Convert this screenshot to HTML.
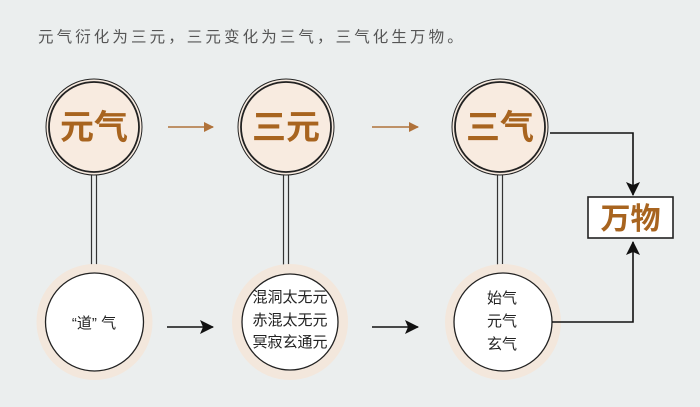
<!DOCTYPE html>
<html><head><meta charset="utf-8"><style>
body{margin:0;background:#ebeeee;}
svg{display:block}
text{font-family:"Liberation Sans","Noto Sans CJK SC",sans-serif}
</style></head><body>
<svg width="700" height="407" viewBox="0 0 700 407" xmlns="http://www.w3.org/2000/svg">
<rect width="700" height="407" fill="#ebeeee"/>
<text x="38" y="42" font-size="15.5" letter-spacing="3.1" fill="#555">元气衍化为三元，三元变化为三气，三气化生万物。</text>
<defs>
<marker id="ao" markerWidth="10" markerHeight="10" refX="9" refY="5" orient="auto" markerUnits="userSpaceOnUse"><path d="M0,0 L10,5 L0,10 Z" fill="#b0723a"/></marker>
<marker id="ab" markerWidth="14" markerHeight="14" refX="13" refY="7" orient="auto" markerUnits="userSpaceOnUse"><path d="M0,0 L14,7 L0,14 L3,7 Z" fill="#111"/></marker>
</defs>
<g stroke="#333" stroke-width="1.2">
<line x1="91.5" y1="174" x2="91.5" y2="272"/><line x1="96.5" y1="174" x2="96.5" y2="272"/>
<line x1="283.5" y1="174" x2="283.5" y2="272"/><line x1="288.5" y1="174" x2="288.5" y2="272"/>
<line x1="497.5" y1="174" x2="497.5" y2="272"/><line x1="502.5" y1="174" x2="502.5" y2="272"/>
</g>
<g>
<circle cx="94" cy="127" r="48" fill="#f8ebe0" stroke="#222" stroke-width="1"/>
<circle cx="94" cy="127" r="45" fill="#f8ebe0" stroke="#222" stroke-width="1.8"/>
<circle cx="286" cy="127" r="48" fill="#f8ebe0" stroke="#222" stroke-width="1"/>
<circle cx="286" cy="127" r="45" fill="#f8ebe0" stroke="#222" stroke-width="1.8"/>
<circle cx="500" cy="127" r="48" fill="#f8ebe0" stroke="#222" stroke-width="1"/>
<circle cx="500" cy="127" r="45" fill="#f8ebe0" stroke="#222" stroke-width="1.8"/>
</g>
<g font-size="34" font-weight="bold" fill="#a8641f" text-anchor="middle">
<text x="94" y="139">元气</text>
<text x="286" y="139">三元</text>
<text x="500" y="139">三气</text>
</g>
<g stroke="#b0723a" stroke-width="1.6">
<line x1="168" y1="127" x2="213" y2="127" marker-end="url(#ao)"/>
<line x1="372" y1="127" x2="418" y2="127" marker-end="url(#ao)"/>
</g>
<g>
<circle cx="94.5" cy="322" r="58" fill="#f3e7dc"/>
<circle cx="94.5" cy="322" r="49" fill="#fff" stroke="#222" stroke-width="1.3"/>
<circle cx="290" cy="322" r="58" fill="#f3e7dc"/>
<circle cx="290" cy="322" r="48" fill="#fff" stroke="#222" stroke-width="1.3"/>
<circle cx="503" cy="322" r="58" fill="#f3e7dc"/>
<circle cx="503" cy="322" r="49" fill="#fff" stroke="#222" stroke-width="1.3"/>
</g>
<g font-size="15" fill="#222" text-anchor="middle">
<text x="94" y="328" xml:space="preserve">“道” 气</text>
<text x="290" y="302">混洞太无元</text>
<text x="290" y="325">赤混太无元</text>
<text x="290" y="347">冥寂玄通元</text>
<text x="502" y="303">始气</text>
<text x="502" y="326">元气</text>
<text x="502" y="349">玄气</text>
</g>
<g stroke="#111" stroke-width="1.6" fill="none">
<line x1="167" y1="327" x2="213" y2="327" marker-end="url(#ab)"/>
<line x1="372" y1="327" x2="418" y2="327" marker-end="url(#ab)"/>
<polyline points="550,133 633,133 633,195" marker-end="url(#ab)"/>
<polyline points="552,322 633,322 633,242" marker-end="url(#ab)"/>
</g>
<rect x="588" y="197" width="85" height="41" fill="#fff" stroke="#222" stroke-width="1.6"/>
<text x="630.5" y="229" font-size="30" font-weight="bold" fill="#a8641f" text-anchor="middle">万物</text>
</svg>
</body></html>
